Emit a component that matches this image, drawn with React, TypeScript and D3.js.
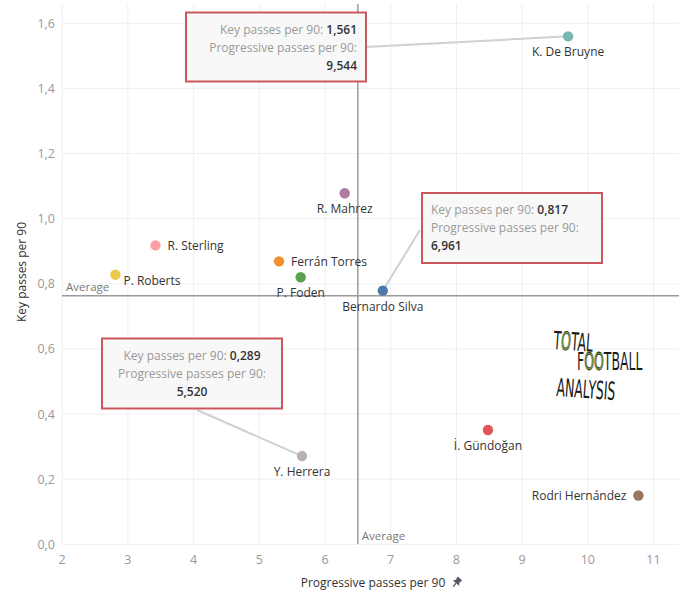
import React from "react";
import * as d3 from "d3";

const players = ["K. De Bruyne", "R. Mahrez", "R. Sterling", "Ferrán Torres", "P. Foden", "P. Roberts", "Bernardo Silva", "Y. Herrera", "İ. Gündoğan", "Rodri Hernández"];
const progressive = [9.70, 6.30, 3.42, 5.30, 5.63, 2.81, 6.88, 5.65, 8.48, 10.77];
const keyPasses = [1.56, 1.078, 0.918, 0.869, 0.820, 0.828, 0.779, 0.271, 0.351, 0.150];
const colors = ["#76b7b2", "#b07aa1", "#ff9da7", "#f28e2b", "#59a14f", "#edc948", "#4e79a7", "#bab0ac", "#e15759", "#9c755f"];
const labelPos = ["below", "below", "right", "right", "below", "rightlow", "below", "below", "below", "left"];
const xTicks = [2, 3, 4, 5, 6, 7, 8, 9, 10, 11];
const yTicks = [0, 0.2, 0.4, 0.6, 0.8, 1.0, 1.2, 1.4, 1.6];
const avgX = 6.5;
const avgY = 0.763;

const tipPlayers = ["K. De Bruyne", "Bernardo Silva", "Y. Herrera"];
const tipKey = ["1,561", "0,817", "0,289"];
const tipProg = ["9,544", "6,961", "5,520"];

const FONT = "'Open Sans', 'Noto Sans', sans-serif";

export default function App() {
  const W = 685, H = 602;
  const x = d3.scaleLinear().domain([2, 11]).range([62.2, 653.5]);
  const y = d3.scaleLinear().domain([0, 1.6]).range([544.3, 23.3]);
  const plotL = 62, plotR = 679, plotT = 4, plotB = 544.3;
  const fmt = (v: number) => d3.format(".1f")(v).replace(".", ",");

  const idx = (name: string) => players.indexOf(name);

  const boxes = [
    { x: 186, y: 12.5, w: 180, h: 69, align: "end", anchorX: 366, anchorY: 47 },
    { x: 422, y: 193, w: 180, h: 70, align: "start", anchorX: 420, anchorY: 230 },
    { x: 102, y: 338.5, w: 180, h: 70, align: "middle", anchorX: 197, anchorY: 410 },
  ];

  const ball = "#86b43c";

  return (
    <svg width={W} height={H} style={{ display: "block", position: "absolute", left: 0, top: 0 }} fontFamily={FONT}>
      <rect width={W} height={H} fill="#fff" />
      {xTicks.map((t) => (
        <line key={"gx" + t} x1={x(t)} x2={x(t)} y1={plotT} y2={plotB} stroke="#efefef" strokeWidth={1} />
      ))}
      {yTicks.map((t) => (
        <line key={"gy" + t} x1={plotL} x2={plotR} y1={y(t)} y2={y(t)} stroke="#efefef" strokeWidth={1} />
      ))}
      {xTicks.map((t) => (
        <text key={"tx" + t} x={x(t)} y={564} textAnchor="middle" fontSize={12.5} fill="#999">{t}</text>
      ))}
      {yTicks.map((t) => (
        <text key={"ty" + t} x={55} y={y(t) + 4.5} textAnchor="end" fontSize={12.5} fill="#999">{fmt(t)}</text>
      ))}
      <text x={373} y={587} textAnchor="middle" fontSize={12} fill="#333">Progressive passes per 90</text>
      <g transform="translate(457,582) rotate(40)">
        <path d="M-3,-4.5 L3,-4.5 L2.2,-1 L4,1.5 L-4,1.5 L-2.2,-1 Z" fill="#556" />
        <line x1={0} y1={1.5} x2={0} y2={6} stroke="#556" strokeWidth={1.3} />
      </g>
      <text transform={`translate(26,${272}) rotate(-90)`} textAnchor="middle" fontSize={12} fill="#333">Key passes per 90</text>

      <line x1={plotL} x2={plotR} y1={y(avgY)} y2={y(avgY)} stroke="#9a9a9a" strokeWidth={1.5} />
      <line x1={x(avgX)} x2={x(avgX)} y1={plotT} y2={plotB} stroke="#9a9a9a" strokeWidth={1.5} />
      <text x={66} y={y(avgY) - 5} fontSize={11.5} fill="#777">Average</text>
      <text x={x(avgX) + 4} y={540} fontSize={11.5} fill="#777">Average</text>

      {/* logo */}
      <g fontFamily="'DejaVu Sans', sans-serif" fill="#1a1a1a">
        <text transform="translate(553,349) rotate(4) scale(0.5,1)" fontSize={25}>
          T<tspan fill={ball} stroke="#1a1a1a" strokeWidth={0.8}>O</tspan>TAL
        </text>
        <text transform="translate(577,370) scale(0.52,1)" fontSize={24}>
          F<tspan fill={ball} stroke="#1a1a1a" strokeWidth={0.8}>OO</tspan>TBALL
        </text>
        <text transform="translate(556,396) rotate(4) scale(0.5,1)" fontSize={25}>ANALYSIS</text>
      </g>

      {tipPlayers.map((p, i) => {
        const k = idx(p);
        return (
          <line key={"c" + i} x1={boxes[i].anchorX} y1={boxes[i].anchorY} x2={x(progressive[k])} y2={y(keyPasses[k])} stroke="#d0d0d0" strokeWidth={2} />
        );
      })}

      {players.map((p, i) => {
        const cx = x(progressive[i]), cy = y(keyPasses[i]);
        const pos = labelPos[i];
        let lx = cx, ly = cy + 20, anchor = "middle";
        if (pos === "right") { lx = cx + 12; ly = cy + 4.5; anchor = "start"; }
        if (pos === "rightlow") { lx = cx + 8; ly = cy + 10; anchor = "start"; }
        if (pos === "left") { lx = cx - 12; ly = cy + 4.5; anchor = "end"; }
        return (
          <g key={p}>
            <circle cx={cx} cy={cy} r={5.2} fill={colors[i]} />
            <text x={lx} y={ly} textAnchor={anchor as any} fontSize={12} fill="#333">{p}</text>
          </g>
        );
      })}

      {boxes.map((b, i) => {
        const tx = b.align === "end" ? b.x + b.w - 9 : b.align === "start" ? b.x + 9 : b.x + b.w / 2;
        return (
          <g key={"b" + i}>
            <rect x={b.x} y={b.y} width={b.w} height={b.h} fill="#f9f8f8" stroke="#c9575b" strokeWidth={2} />
            <text x={tx} y={b.y + 21} textAnchor={b.align as any} fontSize={12}>
              <tspan fill="#999">Key passes per 90: </tspan>
              <tspan fill="#333" fontWeight={600}>{tipKey[i]}</tspan>
            </text>
            <text x={tx} y={b.y + 39} textAnchor={b.align as any} fontSize={12} fill="#999">Progressive passes per 90:</text>
            <text x={tx} y={b.y + 57} textAnchor={b.align as any} fontSize={12} fill="#333" fontWeight={600}>{tipProg[i]}</text>
          </g>
        );
      })}
    </svg>
  );
}
